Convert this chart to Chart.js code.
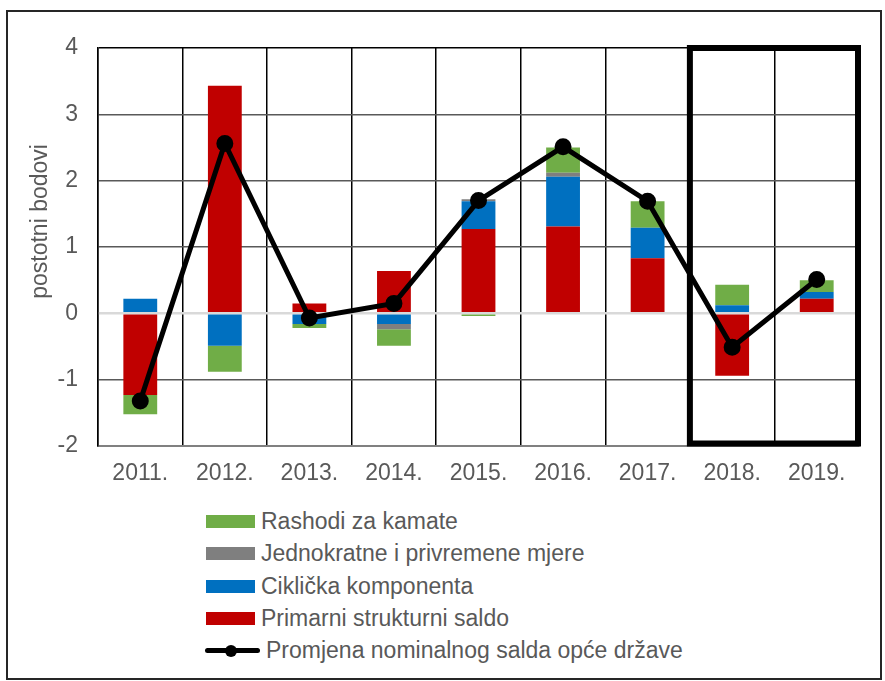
<!DOCTYPE html>
<html>
<head>
<meta charset="utf-8">
<script src="https://cdn.jsdelivr.net/npm/chart.js@4/dist/chart.umd.min.js"></script>
<style>
  html, body { margin: 0; padding: 0; background: #ffffff; }
  #wrap { position: relative; width: 885px; height: 681px; overflow: hidden; background: #fff; }
  #frame { position: absolute; left: 6px; top: 10px; width: 872px; height: 666px; border: 2px solid #262626; pointer-events: none; }
  #chartBox { position: absolute; left: 0; top: 0; width: 885px; height: 500px; }
  #legend { position: absolute; left: 205px; top: 505.5px; font-family: Arial, "Liberation Sans", sans-serif; font-size: 23px; color: #595959; }
  .row { display: flex; align-items: center; height: 32.3px; white-space: nowrap; }
  .sw { width: 49px; height: 13px; margin-left: 1px; margin-right: 6px; }
  .lineSw { position: relative; width: 55px; height: 13px; margin-right: 6px; }
  .lineSw .ln { position: absolute; left: 0; right: 0; top: 4px; height: 5px; background: #000; border-radius: 2.5px; }
  .lineSw .dt { position: absolute; left: 20px; top: 0.5px; width: 12px; height: 12px; border-radius: 50%; background: #000; }
</style>
</head>
<body>
<div id="wrap">
  <div id="chartBox"><canvas id="c" width="885" height="500"></canvas></div>
  <div id="legend"></div>
  <div id="frame"></div>
</div>
<script>
// ---- data ----
const years = ['2011.', '2012.', '2013.', '2014.', '2015.', '2016.', '2017.', '2018.', '2019.'];
const primarniStrukturniSaldo = [-1.23, 3.43, 0.15, 0.64, 1.27, 1.31, 0.83, -0.94, 0.22];
const ciklickaKomponenta      = [0.22, -0.49, -0.16, -0.16, 0.42, 0.75, 0.46, 0.12, 0.10];
const jednokratneMjere        = [0, 0, 0, -0.08, 0.03, 0.06, 0, 0, 0];
const rashodiZaKamate         = [-0.29, -0.39, -0.06, -0.25, -0.04, 0.38, 0.40, 0.31, 0.18];
const promjenaNominalnogSalda = [-1.32, 2.56, -0.07, 0.15, 1.70, 2.51, 1.69, -0.51, 0.51];
const yTicks = [-2, -1, 0, 1, 2, 3, 4];
const highlightFrom = '2018.';

const FONT = 'Arial, "Liberation Sans", sans-serif';
const TXT = '#595959';

const highlightBox = {
  id: 'highlightBox',
  beforeDatasetsDraw(chart) {
    const {ctx, chartArea, scales} = chart;
    const x = scales.x;
    const idx = years.indexOf(highlightFrom);
    const left = (x.getPixelForValue(idx - 1) + x.getPixelForValue(idx)) / 2;
    ctx.save();
    ctx.strokeStyle = '#000';
    ctx.lineWidth = 6;
    ctx.strokeRect(left, chartArea.top, chartArea.right - 1 - left, chartArea.bottom - 2.5 - chartArea.top);
    ctx.restore();
  }
};

const chart = new Chart(document.getElementById('c'), {
  type: 'bar',
  data: {
    labels: years,
    datasets: [
      { label: 'Primarni strukturni saldo', data: primarniStrukturniSaldo, backgroundColor: '#C00000', stack: 'bars', order: 1 },
      { label: 'Ciklička komponenta', data: ciklickaKomponenta, backgroundColor: '#0070C0', stack: 'bars', order: 1 },
      { label: 'Jednokratne i privremene mjere', data: jednokratneMjere, backgroundColor: '#7F7F7F', stack: 'bars', order: 1 },
      { label: 'Rashodi za kamate', data: rashodiZaKamate, backgroundColor: '#70AD47', stack: 'bars', order: 1 },
      { type: 'line', label: 'Promjena nominalnog salda opće države', data: promjenaNominalnogSalda,
        borderColor: '#000', backgroundColor: '#000', borderWidth: 5, pointRadius: 6, pointHoverRadius: 6,
        pointBackgroundColor: '#000', pointBorderColor: '#000', tension: 0, stack: 'line', order: 0, fill: false }
    ]
  },
  options: {
    responsive: false,
    animation: false,
    devicePixelRatio: 1,
    layout: { padding: { left: 0, top: 48, right: 26, bottom: 0 } },
    datasets: { bar: { categoryPercentage: 1.0, barPercentage: 0.4 } },
    plugins: { legend: { display: false }, tooltip: { enabled: false } },
    scales: {
      x: {
        stacked: true,
        grid: { offset: true, color: '#000', lineWidth: 1.5, drawTicks: false },
        border: { display: true, color: '#808080', width: 2 },
        ticks: { color: TXT, font: { family: FONT, size: 23 }, padding: 14, maxRotation: 0 },
        afterFit(s) { s.height = 54; }
      },
      y: {
        stacked: true,
        min: -2, max: 4,
        afterBuildTicks(s) { s.ticks = yTicks.map(v => ({ value: v })); },
        grid: {
          drawTicks: false,
          color: ctx => ctx.tick && ctx.tick.value === 0 ? '#D9D9D9' : (ctx.tick && ctx.tick.value === 4 ? '#000' : '#595959'),
          lineWidth: ctx => ctx.tick && ctx.tick.value === 0 ? 2.5 : 1.5
        },
        border: { display: true, color: '#000', width: 1.5 },
        ticks: { color: TXT, font: { family: FONT, size: 23 }, padding: 20 },
        title: { display: true, text: '        postotni bodovi', color: TXT, font: { family: FONT, size: 23 }, padding: { top: 27, bottom: 0 } },
        afterFit(s) { s.width = 98; }
      }
    }
  },
  plugins: [highlightBox]
});

// ---- legend (built from the chart's datasets) ----
const legendOrder = ['Rashodi za kamate', 'Jednokratne i privremene mjere', 'Ciklička komponenta', 'Primarni strukturni saldo', 'Promjena nominalnog salda opće države'];
const legendEl = document.getElementById('legend');
legendOrder.forEach(name => {
  const ds = chart.data.datasets.find(d => d.label === name);
  const row = document.createElement('div');
  row.className = 'row';
  let sw;
  if (ds.type === 'line') {
    sw = document.createElement('div');
    sw.className = 'lineSw';
    sw.innerHTML = '<div class="ln"></div><div class="dt"></div>';
  } else {
    sw = document.createElement('div');
    sw.className = 'sw';
    sw.style.background = ds.backgroundColor;
  }
  const t = document.createElement('span');
  t.textContent = ds.label;
  row.appendChild(sw);
  row.appendChild(t);
  legendEl.appendChild(row);
});
</script>
</body>
</html>
